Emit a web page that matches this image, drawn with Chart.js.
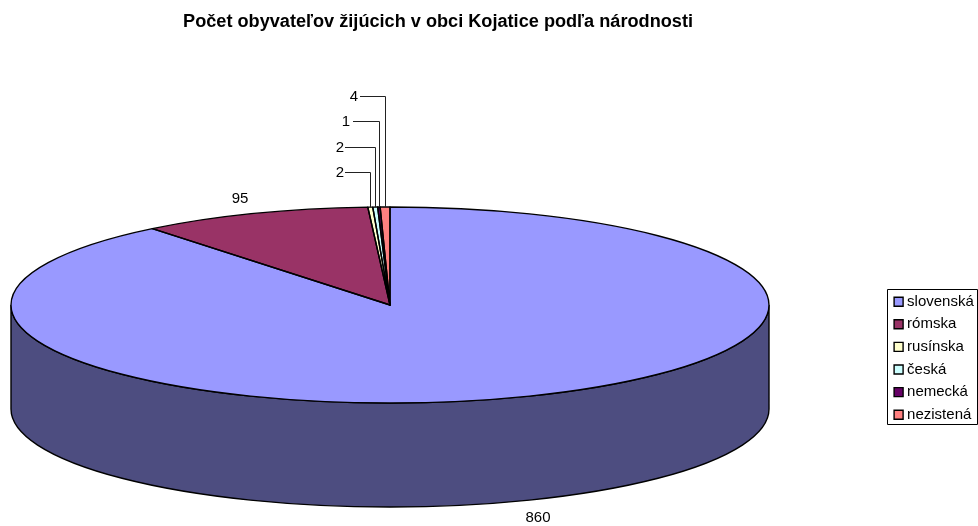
<!DOCTYPE html>
<html>
<head>
<meta charset="utf-8">
<style>
  html, body { margin: 0; padding: 0; background: #ffffff; }
  canvas { display: block; }
</style>
<script src="https://cdn.jsdelivr.net/npm/chart.js@4/dist/chart.umd.min.js"></script>
</head>
<body>
<canvas id="chart" width="978" height="526"></canvas>
<script>
// data
const categories = ['slovenská', 'rómska', 'rusínska', 'česká', 'nemecká', 'nezistená'];
const values = [860, 95, 2, 2, 1, 4];
const titleText = 'Počet obyvateľov žijúcich v obci Kojatice podľa národnosti';

// colours
const topColors = ['#9999FF', '#993366', '#FFFFCC', '#CCFFFF', '#660066', '#FF8080'];
const sideColors = ['#4D4D80', '#4D1A33', '#808066', '#668080', '#330033', '#804040'];

// where the flattened pie sits on the page
const pie = { cx: 390, cy: 305, rx: 379, ry: 98, depth: 104 };
const fontFamily = '"Liberation Sans", Arial, sans-serif';

// label spots: plain labels and the ones with a leader line
const plainLabels = { 0: { x: 538, y: 518 }, 1: { x: 240, y: 199 } };
const leaderLabels = {
    2: { x: 340, y: 173, lineX: 345 },
    3: { x: 340, y: 148, lineX: 345 },
    4: { x: 346, y: 122, lineX: 353 },
    5: { x: 354, y: 97, lineX: 360 }
};

// arc path on the flattened pie, in page pixels
function ellipsePoint(a, dy) {
    return [pie.cx + pie.rx * Math.cos(a), pie.cy + (dy || 0) + pie.ry * Math.sin(a)];
}

function traceRim(ctx, a0, a1, dy) {
    ctx.ellipse(pie.cx, pie.cy + (dy || 0), pie.rx, pie.ry, 0, a0, a1, false);
}

// side wall is only visible between 0 and PI
function drawWall(ctx, arcs) {
    arcs.forEach((arc, i) => {
        const a0 = Math.max(arc.startAngle, 0);
        const a1 = Math.min(arc.endAngle, Math.PI);
        if (a1 <= a0) return;
        ctx.beginPath();
        traceRim(ctx, a0, a1, 0);
        const p = ellipsePoint(a1, pie.depth);
        ctx.lineTo(p[0], p[1]);
        ctx.ellipse(pie.cx, pie.cy + pie.depth, pie.rx, pie.ry, 0, a1, a0, true);
        ctx.closePath();
        ctx.fillStyle = sideColors[i];
        ctx.fill();
        ctx.strokeStyle = '#000000';
        ctx.lineWidth = 1.4;
        ctx.stroke();
    });
}

const flatPiePlugin = {
    id: 'flatPie',
    afterLayout(chart) {
        // title and legend do not sit where the layout engine would put them
        const t = chart.titleBlock;
        t.left = 0; t.right = 876; t.top = 11; t.bottom = 33;
        const l = chart.legend;
        const w = l.width, h = l.height;
        l.left = 890; l.top = 286.6;
        l.right = l.left + w; l.bottom = l.top + h;
    },
    beforeDatasetsDraw(chart) {
        const ctx = chart.ctx;
        const arcs = chart.getDatasetMeta(0).data;
        drawWall(ctx, arcs);
        // squash the round pie of chart.js into the ellipse
        const first = arcs[0];
        ctx.save();
        ctx.translate(pie.cx, pie.cy);
        ctx.scale(pie.rx / first.outerRadius, pie.ry / first.outerRadius);
        ctx.translate(-first.x, -first.y);
    },
    afterDatasetsDraw(chart) {
        const ctx = chart.ctx;
        ctx.restore();
        const arcs = chart.getDatasetMeta(0).data;

        // slice outlines with an even line width
        ctx.strokeStyle = '#000000';
        ctx.lineWidth = 1.4;
        ctx.lineJoin = 'round';
        arcs.forEach(arc => {
            ctx.beginPath();
            ctx.moveTo(pie.cx, pie.cy);
            traceRim(ctx, arc.startAngle, arc.endAngle, 0);
            ctx.closePath();
            ctx.stroke();
        });

        // value labels
        ctx.font = '15px ' + fontFamily;
        ctx.fillStyle = '#000000';
        ctx.textAlign = 'center';
        ctx.textBaseline = 'middle';
        values.forEach((v, i) => {
            const spot = plainLabels[i] || leaderLabels[i];
            ctx.fillText(String(v), spot.x, spot.y);
        });

        // leader lines for the thin slices
        ctx.lineWidth = 1;
        ctx.strokeStyle = '#222222';
        Object.keys(leaderLabels).forEach(i => {
            const arc = arcs[i];
            const mid = (arc.startAngle + arc.endAngle) / 2;
            const p = ellipsePoint(mid, 0);
            const spot = leaderLabels[i];
            const x = Math.round(p[0]) + 0.5;
            ctx.beginPath();
            ctx.moveTo(spot.lineX, spot.y - 0.5);
            ctx.lineTo(x, spot.y - 0.5);
            ctx.lineTo(x, p[1]);
            ctx.stroke();
        });
    },
    afterDraw(chart) {
        // legend frame
        const ctx = chart.ctx;
        ctx.strokeStyle = '#000000';
        ctx.lineWidth = 1;
        ctx.strokeRect(887.5, 289.5, 90, 135);
    }
};

new Chart(document.getElementById('chart'), {
    type: 'pie',
    data: {
        labels: categories,
        datasets: [{
            data: values,
            backgroundColor: topColors,
            borderWidth: 0,
            clip: false
        }]
    },
    options: {
        responsive: false,
        animation: false,
        plugins: {
            title: {
                display: true,
                text: titleText,
                color: '#000000',
                padding: 0,
                font: { family: fontFamily, size: 18.15, weight: 'bold' }
            },
            legend: {
                position: 'right',
                align: 'start',
                labels: {
                    color: '#000000',
                    usePointStyle: true,
                    boxWidth: 2,
                    boxHeight: 9,
                    padding: 7.6,
                    font: { family: fontFamily, size: 15 },
                    generateLabels: () => categories.map((name, i) => ({
                        text: name,
                        fillStyle: topColors[i],
                        strokeStyle: '#000000',
                        lineWidth: 1.4,
                        pointStyle: 'rect',
                        fontColor: '#000000',
                        index: i
                    }))
                }
            },
            tooltip: { enabled: false }
        }
    },
    plugins: [flatPiePlugin]
});
</script>
</body>
</html>
